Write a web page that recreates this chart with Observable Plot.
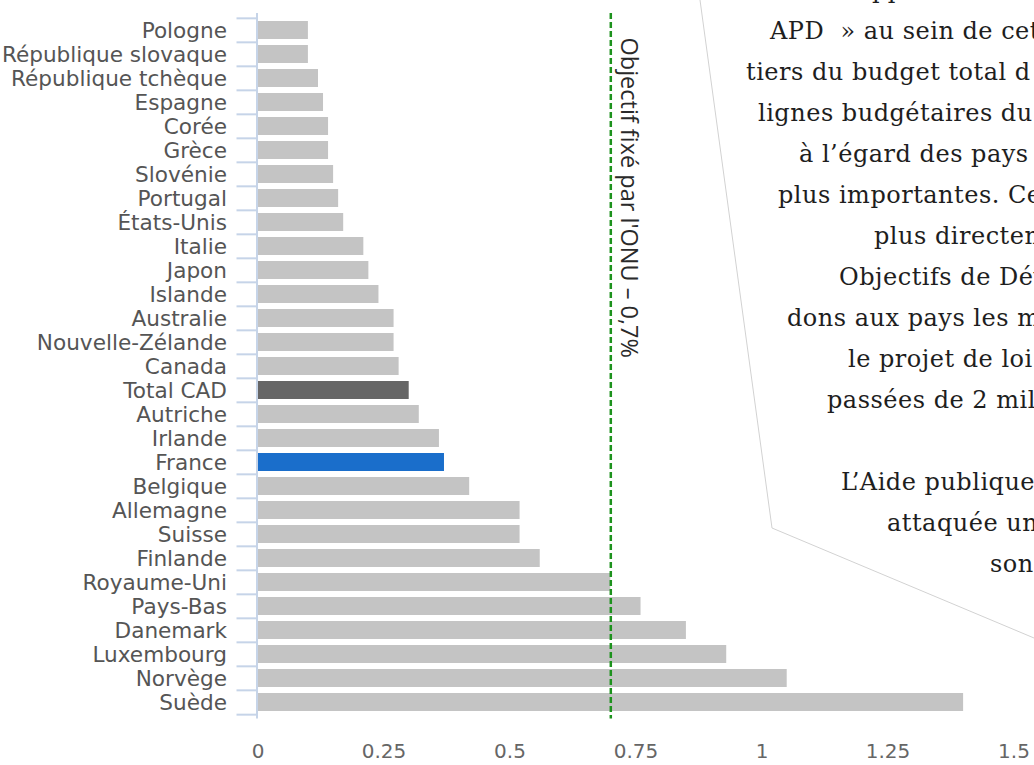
<!DOCTYPE html>
<html>
<head>
<meta charset="utf-8">
<script src="https://cdn.jsdelivr.net/npm/d3@7"></script>
<script src="https://cdn.jsdelivr.net/npm/@observablehq/plot@0.6"></script>
<style>
  html, body { margin: 0; padding: 0; background: #fff; }
  #page { position: relative; width: 1034px; height: 765px; overflow: hidden; background: #fff; }
  #chart { position: absolute; left: 0; top: 0; }
  #deco { position: absolute; left: 0; top: 0; }
</style>
</head>
<body>
<div id="page">
  <div id="chart"></div>
  <svg id="deco" width="1034" height="765"></svg>
</div>
<script>
// ---- data ----
const countries = ["Pologne","République slovaque","République tchèque","Espagne","Corée","Grèce","Slovénie","Portugal","États-Unis","Italie","Japon","Islande","Australie","Nouvelle-Zélande","Canada","Total CAD","Autriche","Irlande","France","Belgique","Allemagne","Suisse","Finlande","Royaume-Uni","Pays-Bas","Danemark","Luxembourg","Norvège","Suède"];
const values = [0.10,0.10,0.12,0.13,0.14,0.14,0.15,0.16,0.17,0.21,0.22,0.24,0.27,0.27,0.28,0.30,0.32,0.36,0.37,0.42,0.52,0.52,0.56,0.70,0.76,0.85,0.93,1.05,1.40];
const xTicks = [0, 0.25, 0.5, 0.75, 1, 1.25, 1.5];
const target = 0.7;
const targetLabel = "Objectif fixé par l'ONU – 0,7%";
const articleLines = ["pp", "APD  » au sein de cet", "tiers du budget total d", "lignes budgétaires du", "à l’égard des pays", "plus importantes. Ce", "plus directem", "Objectifs de Dév", "dons aux pays les m", "le projet de loi", "passées de 2 mil", "", "L’Aide publique", "attaquée un", "son"];

// ---- style / layout ----
const highlight = {"France": "#1a6ecb", "Total CAD": "#666666"};
const barGray = "#c4c4c4";
const axisBlue = "#c6d4e8";
const green = "#1d921d";
const W = 1034, H = 765, mt = 13, mb = 46.4, ml = 257.5, mr = 20.5;
const step = (H - mt - mb) / countries.length;
const articleX = [872, 770, 746, 758, 799, 778, 874, 839, 787, 848, 827, 0, 841, 887, 990];
const articleBaseline0 = -2, articleBaseline1 = 39, articleLead = 41;

const data = countries.map((c, i) => ({country: c, value: values[i]}));

const chart = Plot.plot({
  width: W, height: H,
  marginTop: mt, marginBottom: mb, marginLeft: ml, marginRight: mr,
  style: {fontFamily: "DejaVu Sans", background: "transparent", overflow: "visible"},
  x: {domain: [0, 1.5]},
  y: {domain: countries, paddingInner: 0.27, paddingOuter: 0.135},
  marks: [
    Plot.barX(data, {x: "value", y: "country", fill: d => highlight[d.country] ?? barGray}),
    Plot.ruleX([0], {stroke: axisBlue, strokeWidth: 2, dx: -1}),
    Plot.axisY({tickSize: 21, fill: "none", stroke: axisBlue, strokeWidth: 2, dy: -step / 2, label: null}),
    Plot.axisY([countries[countries.length - 1]], {tickSize: 21, fill: "none", stroke: axisBlue, strokeWidth: 2, dy: step / 2, label: null}),
    Plot.axisY({tickSize: 0, tickPadding: 31, fontSize: 21.6, fill: "#555", dy: 1, label: null}),
    Plot.axisX(xTicks, {tickSize: 0, tickPadding: 25, tickFormat: d => String(d), fontSize: 20, fill: "#666", label: null}),
    Plot.ruleX([target], {stroke: green, strokeWidth: 2.5, strokeDasharray: "6,3"}),
    Plot.text([targetLabel], {x: target, frameAnchor: "top", rotate: 90, textAnchor: "start", lineAnchor: "middle", dx: 18, dy: 24, fontSize: 23.5, fontFamily: "Open Sans", fill: "#2a2a2a"})
  ]
});
document.getElementById("chart").appendChild(chart);

// ---- overlay: article text + speech bubble outline ----
const deco = d3.select("#deco");
deco.append("polyline")
  .attr("points", "700,0 772,528 1034,638")
  .attr("fill", "none")
  .attr("stroke", "#d2d2d2")
  .attr("stroke-width", 1);
articleLines.forEach((t, i) => {
  if (!t) return;
  const y = i === 0 ? articleBaseline0 : articleBaseline1 + (i - 1) * articleLead;
  deco.append("text")
    .attr("x", articleX[i])
    .attr("y", y)
    .attr("xml:space", "preserve")
    .style("white-space", "pre")
    .attr("font-family", "DejaVu Serif")
    .attr("font-size", 24)
    .attr("letter-spacing", 0.5)
    .attr("fill", "#1e1e1e")
    .text(t);
});
</script>
</body>
</html>
